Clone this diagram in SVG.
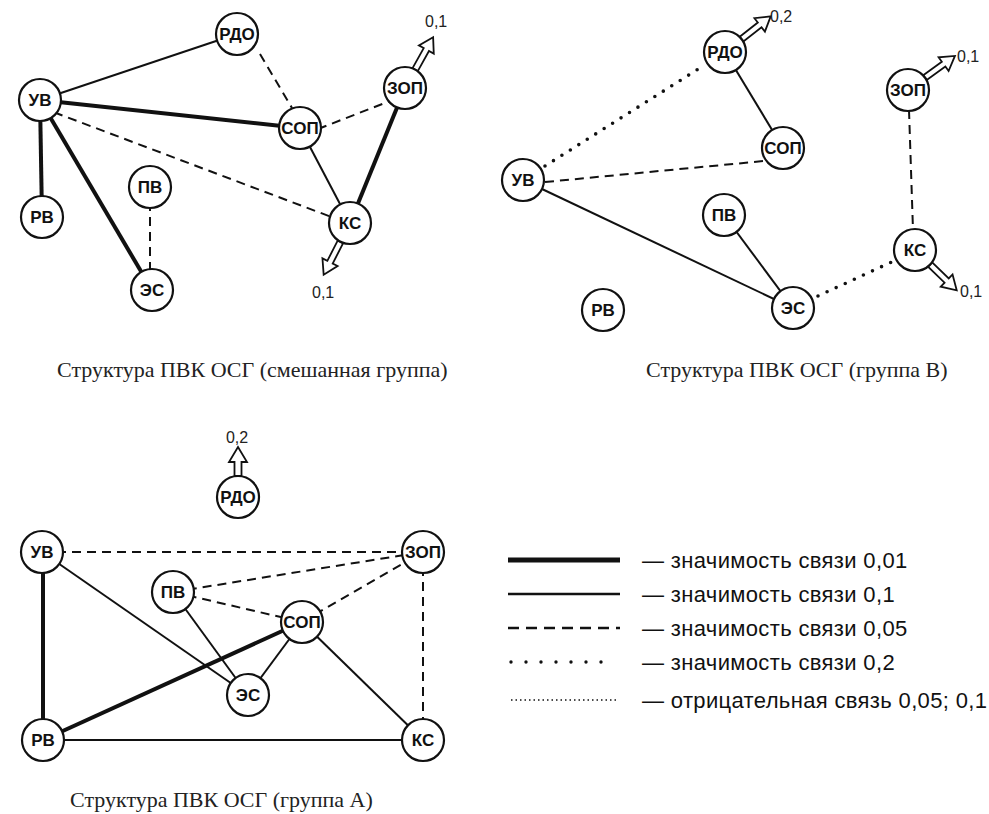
<svg xmlns="http://www.w3.org/2000/svg" width="989" height="814" viewBox="0 0 989 814">
<style>
.node circle{fill:#fff;stroke:#111;stroke-width:2.2}
.node text{font-family:"Liberation Sans",Arial,sans-serif;font-weight:bold;font-size:17px;text-anchor:middle;fill:#111}
.e{stroke:#111;fill:none}
.thick{stroke-width:4}
.solid{stroke-width:2}
.dash{stroke-width:2;stroke-dasharray:9 6}
.dot{stroke-width:3.6;stroke-dasharray:0 10;stroke-linecap:round}
.neg{stroke-width:1.5;stroke-dasharray:1.5 3}
.arrow{fill:#fff;stroke:#111;stroke-width:1.8}
.val{font-family:"Liberation Sans",Arial,sans-serif;font-size:16px;fill:#222}
.cap{font-family:"Liberation Serif","Times New Roman",serif;font-size:22px;fill:#222}
.leg{font-family:"Liberation Sans",Arial,sans-serif;font-size:22px;letter-spacing:0.35px;fill:#111}
</style>
<defs>
<path id="arr" d="M21,-3 H44 V-8.5 L58,0 L44,8.5 V3 H21 Z"/>
<path id="arrS" d="M21,-3.5 H35 V-9 L50,0 L35,9 V3.5 H21 Z"/>
</defs>
<rect width="989" height="814" fill="#fff"/>

<!-- connectors -->
<g id="connectors">
  <!-- mixed group -->
  <line class="e solid" x1="40" y1="100" x2="237" y2="34"/>
  <line class="e dash" x1="260" y1="54" x2="292" y2="108"/>
  <line class="e thick" x1="40" y1="100" x2="300" y2="128"/>
  <line class="e dash" x1="318" y1="129" x2="390" y2="101"/>
  <line class="e dash" x1="40" y1="107" x2="350" y2="224"/>
  <line class="e solid" x1="300" y1="128" x2="350" y2="223"/>
  <line class="e thick" x1="405" y1="88" x2="350" y2="223"/>
  <line class="e thick" x1="40" y1="100" x2="42" y2="217"/>
  <line class="e thick" x1="40" y1="100" x2="152" y2="290"/>
  <line class="e dash" x1="150" y1="187" x2="150" y2="290"/>
  <!-- group B -->
  <line class="e dot" x1="545" y1="166" x2="703" y2="66"/>
  <line class="e solid" x1="725" y1="52" x2="783" y2="148"/>
  <line class="e dash" x1="545" y1="182" x2="764" y2="161"/>
  <line class="e solid" x1="523" y1="180" x2="793" y2="308"/>
  <line class="e solid" x1="724" y1="215" x2="793" y2="308"/>
  <line class="e dash" x1="909" y1="110" x2="913" y2="230"/>
  <line class="e dot" x1="818" y1="296" x2="896" y2="260"/>
  <!-- group A -->
  <line class="e dash" x1="42" y1="552" x2="423" y2="552"/>
  <line class="e dash" x1="173" y1="592" x2="423" y2="552"/>
  <line class="e dash" x1="173" y1="592" x2="302" y2="622"/>
  <line class="e dash" x1="302" y1="622" x2="423" y2="552"/>
  <line class="e dash" x1="423" y1="552" x2="423" y2="740"/>
  <line class="e thick" x1="43" y1="552" x2="43" y2="740"/>
  <line class="e solid" x1="42" y1="552" x2="248" y2="695"/>
  <line class="e solid" x1="173" y1="592" x2="248" y2="695"/>
  <line class="e solid" x1="302" y1="622" x2="248" y2="695"/>
  <line class="e thick" x1="302" y1="622" x2="43" y2="740"/>
  <line class="e solid" x1="302" y1="622" x2="423" y2="740"/>
  <line class="e solid" x1="43" y1="740" x2="423" y2="740"/>
  <!-- output arrows -->
  <use href="#arr" class="arrow" transform="translate(405,88) rotate(-61)"/>
  <use href="#arr" class="arrow" transform="translate(350,223) rotate(117)"/>
  <use href="#arr" class="arrow" transform="translate(725,52) rotate(-38)"/>
  <use href="#arr" class="arrow" transform="translate(908,90) rotate(-36)"/>
  <use href="#arr" class="arrow" transform="translate(915,250) rotate(44)"/>
  <use href="#arrS" class="arrow" transform="translate(238,497) rotate(-90)"/>
</g>

<!-- mixed group nodes -->
<g id="m-UV" class="node"><circle cx="40" cy="100" r="21"/><text x="40" y="106">УВ</text></g>
<g id="m-RDO" class="node"><circle cx="237" cy="34" r="21"/><text x="237" y="40">РДО</text></g>
<g id="m-SOP" class="node"><circle cx="300" cy="128" r="21"/><text x="300" y="134">СОП</text></g>
<g id="m-ZOP" class="node"><circle cx="405" cy="88" r="21"/><text x="405" y="94">ЗОП</text></g>
<g id="m-KS" class="node"><circle cx="350" cy="223" r="21"/><text x="350" y="229">КС</text></g>
<g id="m-PV" class="node"><circle cx="150" cy="187" r="21"/><text x="150" y="193">ПВ</text></g>
<g id="m-RV" class="node"><circle cx="42" cy="217" r="21"/><text x="42" y="223">РВ</text></g>
<g id="m-ES" class="node"><circle cx="152" cy="290" r="21"/><text x="152" y="296">ЭС</text></g>

<!-- group B nodes -->
<g id="b-RDO" class="node"><circle cx="725" cy="52" r="21"/><text x="725" y="58">РДО</text></g>
<g id="b-SOP" class="node"><circle cx="783" cy="148" r="21"/><text x="783" y="154">СОП</text></g>
<g id="b-UV" class="node"><circle cx="523" cy="180" r="21"/><text x="523" y="186">УВ</text></g>
<g id="b-PV" class="node"><circle cx="724" cy="215" r="21"/><text x="724" y="221">ПВ</text></g>
<g id="b-ZOP" class="node"><circle cx="908" cy="90" r="21"/><text x="908" y="96">ЗОП</text></g>
<g id="b-KS" class="node"><circle cx="915" cy="250" r="21"/><text x="915" y="256">КС</text></g>
<g id="b-ES" class="node"><circle cx="793" cy="308" r="21"/><text x="793" y="314">ЭС</text></g>
<g id="b-RV" class="node"><circle cx="603" cy="310" r="21"/><text x="603" y="316">РВ</text></g>

<!-- group A nodes -->
<g id="a-RDO" class="node"><circle cx="238" cy="497" r="21"/><text x="238" y="503">РДО</text></g>
<g id="a-UV" class="node"><circle cx="42" cy="552" r="21"/><text x="42" y="558">УВ</text></g>
<g id="a-ZOP" class="node"><circle cx="423" cy="552" r="21"/><text x="423" y="558">ЗОП</text></g>
<g id="a-PV" class="node"><circle cx="173" cy="592" r="21"/><text x="173" y="598">ПВ</text></g>
<g id="a-SOP" class="node"><circle cx="302" cy="622" r="21"/><text x="302" y="628">СОП</text></g>
<g id="a-ES" class="node"><circle cx="248" cy="695" r="21"/><text x="248" y="701">ЭС</text></g>
<g id="a-RV" class="node"><circle cx="43" cy="740" r="21"/><text x="43" y="746">РВ</text></g>
<g id="a-KS" class="node"><circle cx="423" cy="740" r="21"/><text x="423" y="746">КС</text></g>

<!-- value labels -->
<g id="values">
  <text class="val" x="425" y="27">0,1</text>
  <text class="val" x="312" y="298">0,1</text>
  <text class="val" x="770" y="22">0,2</text>
  <text class="val" x="957" y="62">0,1</text>
  <text class="val" x="960" y="297">0,1</text>
  <text class="val" x="237" y="443" text-anchor="middle">0,2</text>
</g>

<!-- captions -->
<text class="cap" x="57" y="377">Структура ПВК ОСГ (смешанная группа)</text>
<text class="cap" x="646" y="377">Структура ПВК ОСГ (группа В)</text>
<text class="cap" x="70" y="807">Структура ПВК ОСГ (группа А)</text>

<!-- legend -->
<g id="legend">
  <line class="e" stroke-width="5" x1="508" y1="560" x2="620" y2="560"/>
  <line class="e" stroke-width="2.5" x1="508" y1="594" x2="620" y2="594"/>
  <line class="e" stroke-width="2.5" stroke-dasharray="11 7" x1="508" y1="628" x2="620" y2="628"/>
  <line class="e" stroke-width="3.4" stroke-linecap="round" stroke-dasharray="0 15" x1="511" y1="662" x2="616" y2="662"/>
  <line class="e neg" x1="511" y1="700" x2="616" y2="700"/>
  <text class="leg" x="642" y="568">— значимость связи 0,01</text>
  <text class="leg" x="642" y="602">— значимость связи 0,1</text>
  <text class="leg" x="642" y="636">— значимость связи 0,05</text>
  <text class="leg" x="642" y="670">— значимость связи 0,2</text>
  <text class="leg" x="642" y="708">— отрицательная связь 0,05; 0,1</text>
</g>
</svg>
